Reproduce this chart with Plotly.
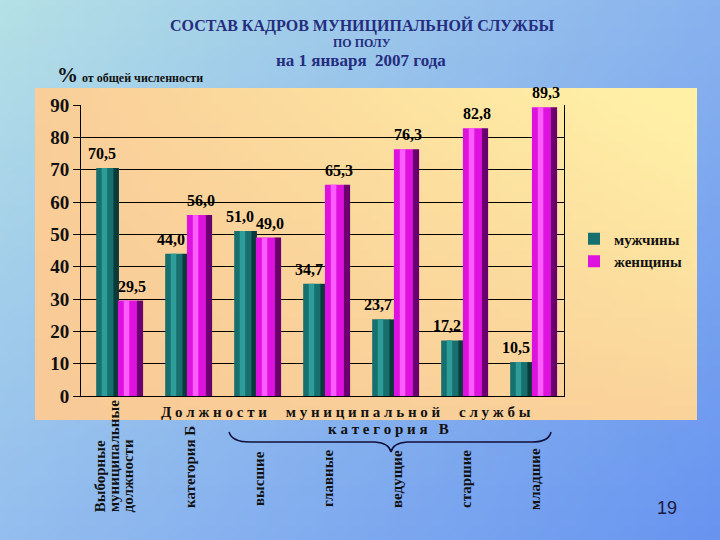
import base64, struct, zlib
import plotly.graph_objects as go

# ---------------- data ----------------
categories = ["Выборные<br>муниципальные<br>должности", "категория Б", "высшие",
              "главные", "ведущие", "старшие", "младшие"]
men = [70.5, 44.0, 51.0, 34.7, 23.7, 17.2, 10.5]
women = [29.5, 56.0, 49.0, 65.3, 76.3, 82.8, 89.3]
series_names = ["мужчины", "женщины"]
y_ticks = [0, 10, 20, 30, 40, 50, 60, 70, 80, 90]
group_b = ["высшие", "главные", "ведущие", "старшие", "младшие"]

# ---------------- layout helpers ----------------
W, H = 720, 540
L, R, T, B = 81, 156, 105, 144
PW, PH = W - L - R, H - T - B


def px(x):
    return (x - L) / PW


def py(y):
    return (H - B - y) / PH


def png_uri(w, h, fn):
    rows = []
    for j in range(h):
        row = bytearray(b"\x00")
        for i in range(w):
            row.extend(fn(i / (w - 1), j / (h - 1)))
        rows.append(bytes(row))
    raw = b"".join(rows)

    def chunk(t, d):
        return struct.pack(">I", len(d)) + t + d + struct.pack(">I", zlib.crc32(t + d) & 0xffffffff)

    png = (b"\x89PNG\r\n\x1a\n" + chunk(b"IHDR", struct.pack(">IIBBBBB", w, h, 8, 2, 0, 0, 0))
           + chunk(b"IDAT", zlib.compress(raw)) + chunk(b"IEND", b""))
    return "data:image/png;base64," + base64.b64encode(png).decode()


def lerp(a, b, t):
    return tuple(int(round(a[k] + (b[k] - a[k]) * t)) for k in range(3))


def bg_fn(u, v):
    tl, tr, bl, br = (180, 224, 230), (136, 178, 238), (148, 190, 238), (104, 148, 240)
    top = lerp(tl, tr, u)
    bot = lerp(bl, br, u)
    return lerp(top, bot, v)


def panel_fn(u, v):
    peach, yellow = (248, 200, 150), (255, 240, 166)
    t = max(0.0, min(1.0, (0.15 + 0.95 * u) * (1 - 0.75 * v)))
    return lerp(peach, yellow, t)


bg_img = png_uri(72, 54, bg_fn)
panel_img = png_uri(66, 34, panel_fn)

idx = list(range(len(categories)))
serif = "Liberation Serif"

fig = go.Figure()

# bars (front face, highlight, dark side) for men
fig.add_trace(go.Bar(x=idx, y=men, name=series_names[0], width=0.26, offset=-0.28,
                     marker=dict(color="#17706e", line=dict(width=0))))
fig.add_trace(go.Bar(x=idx, y=men, width=0.08, offset=-0.20, showlegend=False, hoverinfo="skip",
                     marker=dict(color="#2e9c98", line=dict(width=0))))
fig.add_trace(go.Bar(x=idx, y=men, width=0.08, offset=-0.03, showlegend=False, hoverinfo="skip",
                     marker=dict(color="#0a3a3a", line=dict(width=0))))
# women
fig.add_trace(go.Bar(x=idx, y=women, name=series_names[1], width=0.28, offset=0.035,
                     marker=dict(color="#de12de", line=dict(width=0))))
fig.add_trace(go.Bar(x=idx, y=women, width=0.08, offset=0.12, showlegend=False, hoverinfo="skip",
                     marker=dict(color="#ff5cff", line=dict(width=0))))
fig.add_trace(go.Bar(x=idx, y=women, width=0.09, offset=0.31, showlegend=False, hoverinfo="skip",
                     marker=dict(color="#6a006e", line=dict(width=0))))

ann = []
lab_font = dict(family=serif, size=16, color="black", weight="bold")
for i, v in zip(idx, men):
    ann.append(dict(x=i - 0.15, y=v, xref="x", yref="y", text=f"{v:.1f}".replace(".", ","),
                    showarrow=False, yanchor="bottom", xanchor="center", yshift=4, xshift=-3,
                    font=lab_font))
for i, v in zip(idx, women):
    ann.append(dict(x=i + 0.17, y=v, xref="x", yref="y", text=f"{v:.1f}".replace(".", ","),
                    showarrow=False, yanchor="bottom", xanchor="center", yshift=4, xshift=5,
                    font=lab_font))

# category labels (vertical)
cat_font = dict(family=serif, size=15, color="#111111", weight="bold")
for i, c in zip(idx, categories):
    if c in group_b:
        ann.append(dict(x=i + 0.08, y=py(479), xref="x", yref="paper", text=c,
                        textangle=-90, showarrow=False, yanchor="middle", xanchor="center",
                        font=cat_font))
    elif i == 0:
        parts = c.split("<br>")
        for k, part in enumerate(parts):
            ann.append(dict(x=i - 0.22 + k * 0.2, y=py(514), xref="x", yref="paper", text=part,
                            textangle=-90, showarrow=False, yanchor="bottom", xanchor="center",
                            font=cat_font))
    else:
        ann.append(dict(x=i + 0.08, y=py(467), xref="x", yref="paper", text=c,
                        textangle=-90, showarrow=False, yanchor="middle", xanchor="center",
                        font=cat_font))

title_col = "#252d7e"


def pa(x, y, text, size, color="#111111", xanchor="center", family=serif, weight="bold"):
    return dict(x=px(x), y=py(y), xref="paper", yref="paper", showarrow=False,
                xanchor=xanchor, yanchor="middle", text=text,
                font=dict(family=family, size=size, color=color, weight=weight))


ann += [
    pa(362, 25, "СОСТАВ КАДРОВ МУНИЦИПАЛЬНОЙ СЛУЖБЫ", 16, title_col),
    pa(362, 43, "ПО ПОЛУ", 12, title_col),
    pa(361, 60, "на 1 января  2007 года", 17, title_col),
    pa(55, 75, "%", 21, xanchor="left"),
    pa(80, 78, "от общей численности", 12, xanchor="left"),
    pa(346, 412, "Д о л ж н о с т и     м у н и ц и п а л ь н о й     с л у ж б ы", 15),
    pa(388, 429, "к а т е г о р и я   В", 15),
    pa(667, 508, "19", 18, "#1a1a40", family="Liberation Sans", weight="normal"),
]


def P(x, y):
    return f"{px(x)},{py(y)}"


brace = (f"M {P(229, 432)} Q {P(232, 442)} {P(250, 442)} L {P(375, 442)} "
         f"Q {P(389, 443)} {P(391, 452)} Q {P(393, 443)} {P(407, 442)} "
         f"L {P(532, 442)} Q {P(549, 442)} {P(551, 432)}")

shapes = [dict(type="path", path=brace, xref="paper", yref="paper",
               line=dict(color="#10103a", width=1.5))]

images = [
    dict(source=bg_img, xref="paper", yref="paper", x=px(0), y=py(0), sizex=W / PW, sizey=H / PH,
         sizing="stretch", xanchor="left", yanchor="top", layer="below"),
    dict(source=panel_img, xref="paper", yref="paper", x=px(35), y=py(88),
         sizex=(697 - 35) / PW, sizey=(420 - 88) / PH,
         sizing="stretch", xanchor="left", yanchor="top", layer="below"),
]

fig.update_layout(
    width=W, height=H,
    margin=dict(l=L, r=R, t=T, b=B),
    paper_bgcolor="#9cc4ec", plot_bgcolor="rgba(0,0,0,0)",
    barmode="overlay",
    showlegend=True,
    legend=dict(x=px(574), y=py(250), xanchor="left", yanchor="middle", bgcolor="rgba(0,0,0,0)",
                font=dict(family=serif, size=15, color="#111111", weight="bold"), itemwidth=30,
                tracegroupgap=0),
    xaxis=dict(range=[-0.5, len(categories) - 0.5], showticklabels=False, showgrid=False,
               showline=True, linecolor="black", linewidth=1, zeroline=False,
               ticks="", fixedrange=True),
    yaxis=dict(range=[0, 90], tickvals=y_ticks, showgrid=True, gridcolor="black", gridwidth=1,
               showline=True, linecolor="black", linewidth=1, mirror=True,
               ticks="outside", ticklen=7, tickcolor="black",
               tickfont=dict(family=serif, size=19, color="#111111", weight="bold"),
               zeroline=False),
    annotations=ann, shapes=shapes, images=images,
    font=dict(family=serif),
)

fig.write_html("out.html", config={"displayModeBar": False},
               post_script="document.body.style.margin='0';document.body.style.overflow='hidden';")
